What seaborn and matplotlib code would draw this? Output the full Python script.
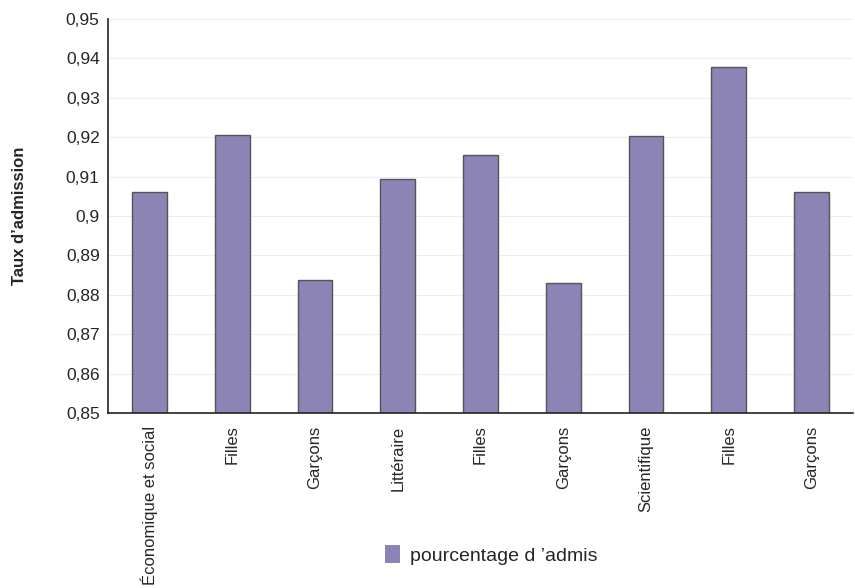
import numpy as np
import pandas as pd
import seaborn as sns
import matplotlib.pyplot as plt
from matplotlib.patches import Patch
from matplotlib.ticker import FixedLocator, FuncFormatter

# Data
categories = ["Économique et social", "Filles", "Garçons",
              "Littéraire", "Filles", "Garçons",
              "Scientifique", "Filles", "Garçons"]
admission_rate = [0.906, 0.9205, 0.8838, 0.9093, 0.9155, 0.8830, 0.9202, 0.9377, 0.906]
y_ticks = [0.85, 0.86, 0.87, 0.88, 0.89, 0.90, 0.91, 0.92, 0.93, 0.94, 0.95]

BAR_COLOR = "#8b84b5"

sns.set_style("white")
plt.rcParams['font.family'] = ['Liberation Sans', 'DejaVu Sans']

df = pd.DataFrame({"pos": range(len(categories)), "taux": admission_rate})

fig = plt.figure(figsize=(8.55, 5.88), dpi=100)
ax = fig.add_axes([108 / 855, 1 - 413 / 588, 745 / 855, (413 - 19) / 588])

sns.barplot(data=df, x="pos", y="taux", color=BAR_COLOR, saturation=1,
            width=0.42, edgecolor="#555555", linewidth=1.0, ax=ax)

ax.set_xlim(-0.5, len(categories) - 0.5)
ax.set_ylim(0.85, 0.95)

# y axis
ax.set_yticks(y_ticks)
ax.yaxis.set_major_formatter(FuncFormatter(lambda v, p: f"{v:.2f}".rstrip("0").replace(".", ",")))
ax.grid(axis="y", color="#e6eef6", linewidth=0.8)
ax.set_axisbelow(True)
ax.tick_params(axis="y", direction="out", length=4, width=1, labelsize=12.5,
               color="#222222", pad=2)
ax.set_ylabel("Taux d’admission", fontsize=12, fontweight="bold", labelpad=28)

# x axis: tick marks at category boundaries, labels at centers
ax.xaxis.set_major_locator(FixedLocator(np.arange(-0.5, len(categories), 1.0)))
ax.xaxis.set_major_formatter(FuncFormatter(lambda v, p: ""))
ax.xaxis.set_minor_locator(FixedLocator(np.arange(len(categories))))
ax.set_xticklabels(categories, minor=True, rotation=90, va="top", fontsize=12)
ax.tick_params(axis="x", which="major", direction="out", length=4, width=1, color="#222222")
ax.tick_params(axis="x", which="minor", length=0, pad=9)
ax.set_xlabel("")

for side in ["top", "right"]:
    ax.spines[side].set_visible(False)
for side in ["left", "bottom"]:
    ax.spines[side].set_color("#222222")
    ax.spines[side].set_linewidth(1.2)

handle = Patch(facecolor=BAR_COLOR, edgecolor="none")
fig.legend([handle], ["pourcentage d \u2019admis"], loc="center",
           bbox_to_anchor=(491 / 855, 1 - 555 / 588), frameon=False,
           fontsize=14, handlelength=0.8, handleheight=1.0, handletextpad=0.5)

fig.savefig("out.png", dpi=100)
